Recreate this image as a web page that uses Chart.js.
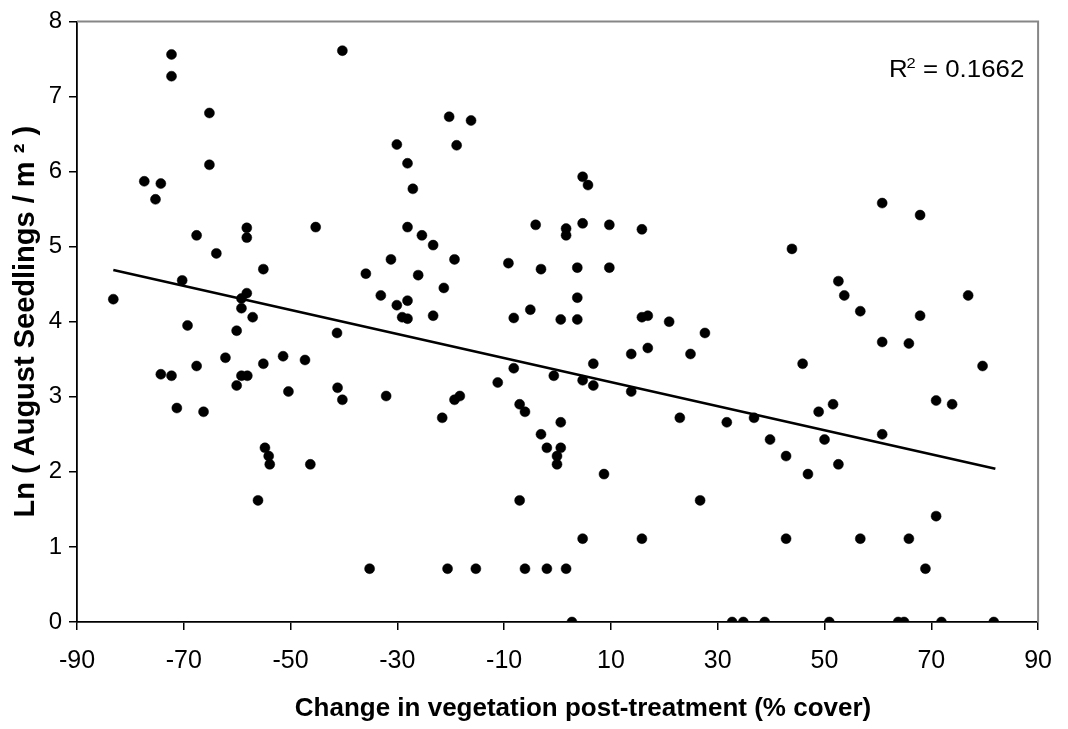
<!DOCTYPE html>
<html>
<head>
<meta charset="utf-8">
<title>August seedlings vs vegetation change</title>
<script src="https://cdn.jsdelivr.net/npm/chart.js@4.4.1/dist/chart.umd.min.js"></script>
<style>
  html, body { margin: 0; padding: 0; background: #fff; }
  #wrap { width: 1068px; height: 729px; }
</style>
</head>
<body>
<div id="wrap"><canvas id="chart" width="1068" height="729"></canvas></div>
<script>
// change in vegetation cover (%)
const changeX = [
  -72.3, -72.3, -40.3, -65.2, -65.2, -77.4, -74.3, -75.3, -30.1, -28.1,
  -27.1, -67.6, -58.2, -58.2, -45.3, -28.1, -63.9, -31.2, -55.1, -35.9,
  -26.1, -70.3, -83.2, -58.2, -59.2, -59.2, -57.1, -69.3, -33.1, -30.1,
  -28.1, -29.1, -28.1, -60.1, -41.3, -62.2, -67.6, -74.3, -72.3, -55.1,
  -51.4, -47.3, -59.2, -58.1, -60.1, -50.4, -41.2, -40.3, -32.1, -71.3,
  -66.3, -54.8, -54.1, -53.9, -46.3, -56.1, -35.2,
  -20.3, -16.2, -18.9, -25.4, -23.3, -19.3, -21.3, -23.3, -9.2, -4.1,
  1.6, 1.6, 4.7, 9.7, 15.8, 4.7, 5.7, -3.1, 3.7, 9.7,
  -8.2, -5.1, 0.6, 3.7, 3.7, 15.8, 16.9, 20.9, 27.6, 13.8,
  16.9, 24.9, 6.7, -8.2, -0.7, 4.7, 6.7, 13.8, -11.2, -19.3,
  -18.3, -21.6, -7.1, -6.1, 0.6, -3.1, -2.0, 0.6, -0.1, -0.1,
  8.7, 22.9, -7.1, 26.7, 4.7, 15.8, -20.6, -15.3, -6.1, -2.0,
  1.6, 2.7,
  60.8, 67.9, 43.9, 52.6, 53.7, 76.9, 56.7, 67.9, 60.8, 65.8,
  45.9, 79.6, 70.9, 73.9, 51.6, 48.9, 36.8, 31.7, 39.8, 50.0,
  60.8, 42.8, 52.6, 46.9, 70.9, 42.8, 56.7, 65.8, 68.9,
  32.7, 34.8, 38.8, 50.9, 63.8, 64.9, 71.9, 81.7
];
// ln(August seedlings / m2)
const lnSeedlings = [
  7.56, 7.27, 7.61, 6.78, 6.09, 5.87, 5.84, 5.63, 6.36, 6.11,
  5.77, 5.15, 5.25, 5.12, 5.26, 5.26, 4.91, 4.83, 4.70, 4.64,
  4.62, 4.55, 4.30, 4.38, 4.31, 4.18, 4.06, 3.95, 4.35, 4.22,
  4.28, 4.06, 4.04, 3.88, 3.85, 3.52, 3.41, 3.30, 3.28, 3.44,
  3.54, 3.49, 3.28, 3.28, 3.15, 3.07, 3.12, 2.96, 3.01, 2.85,
  2.80, 2.32, 2.21, 2.10, 2.10, 1.62, 0.71,
  6.73, 6.68, 6.35, 5.15, 5.02, 4.83, 4.45, 4.08, 4.78, 5.29,
  5.24, 5.15, 5.31, 5.29, 5.23, 5.93, 5.82, 4.70, 4.72, 4.72,
  4.05, 4.16, 4.03, 4.03, 4.32, 4.06, 4.08, 4.00, 3.85, 3.57,
  3.65, 3.57, 3.44, 3.38, 3.28, 3.22, 3.15, 3.07, 3.19, 2.96,
  3.01, 2.72, 2.90, 2.80, 2.66, 2.50, 2.32, 2.32, 2.21, 2.10,
  1.97, 2.72, 1.62, 1.62, 1.11, 1.11, 0.71, 0.71, 0.71, 0.71,
  0.71, 0,
  5.58, 5.42, 4.97, 4.54, 4.35, 4.35, 4.14, 4.08, 3.73, 3.71,
  3.44, 3.41, 2.95, 2.90, 2.90, 2.80, 2.72, 2.66, 2.43, 2.43,
  2.50, 2.21, 2.10, 1.97, 1.41, 1.11, 1.11, 1.11, 0.71,
  0, 0, 0, 0, 0, 0, 0, 0
];
// linear trend line end points
const trendX = [-83.2, 82.0];
const trendY = [4.69, 2.04];
const rSquared = '0.1662';

const xTicks = [-90, -70, -50, -30, -10, 10, 30, 50, 70, 90];
const yTicks = [0, 1, 2, 3, 4, 5, 6, 7, 8];
const xTitle = 'Change in vegetation post-treatment (% cover)';
const yTitle = 'Ln ( August Seedlings / m ² )';

const FONT = '"Liberation Sans", Arial, Helvetica, sans-serif';

const points = changeX.map((x, i) => ({ x: x, y: lnSeedlings[i] }));
const trend = trendX.map((x, i) => ({ x: x, y: trendY[i] }));

// gray frame on top/right, x title (sits a bit right of centre) and R^2 label
const framePlugin = {
  id: 'frame',
  beforeDatasetsDraw(chart) {
    const { ctx, chartArea: a } = chart;
    ctx.save();
    ctx.strokeStyle = '#868686';
    ctx.lineWidth = 2;
    ctx.beginPath();
    ctx.moveTo(a.left, a.top);
    ctx.lineTo(a.right, a.top);
    ctx.lineTo(a.right, a.bottom);
    ctx.stroke();
    ctx.restore();
  },
  afterDraw(chart) {
    const { ctx } = chart;
    ctx.save();
    ctx.fillStyle = '#000';
    ctx.textBaseline = 'alphabetic';

    ctx.textAlign = 'center';
    ctx.font = 'bold 26px ' + FONT;
    ctx.fillText(xTitle, 583, 716);

    ctx.save();
    ctx.translate(889, 77);
    ctx.scale(1.1, 1);
    ctx.textAlign = 'left';
    let x = 0;
    ctx.font = '23.5px ' + FONT;
    ctx.fillText('R', x, 0);
    x += ctx.measureText('R').width - 1;
    ctx.font = '15px ' + FONT;
    ctx.fillText('2', x, -9);
    x += ctx.measureText('2').width;
    ctx.font = '23.5px ' + FONT;
    ctx.fillText(' = ' + rSquared, x, 0);
    ctx.restore();

    ctx.restore();
  }
};

new Chart(document.getElementById('chart'), {
  type: 'scatter',
  data: {
    datasets: [
      {
        label: 'Seedlings',
        data: points,
        backgroundColor: '#000',
        borderColor: '#000',
        borderWidth: 0.5,
        pointRadius: 5,
        pointHoverRadius: 5,
        order: 2
      },
      {
        label: 'Linear trend',
        type: 'line',
        data: trend,
        borderColor: '#000',
        borderWidth: 2.6,
        pointRadius: 0,
        fill: false,
        order: 1
      }
    ]
  },
  options: {
    responsive: false,
    animation: false,
    layout: { padding: { left: 0, top: 16, right: 22, bottom: 0 } },
    plugins: {
      legend: { display: false },
      tooltip: { enabled: false }
    },
    scales: {
      x: {
        type: 'linear',
        min: -90,
        max: 90,
        afterFit: s => { s.height = 107; },
        afterBuildTicks: s => { s.ticks = xTicks.map(v => ({ value: v })); },
        grid: { drawOnChartArea: false, drawTicks: true, tickLength: 8, color: '#000', lineWidth: 1.5 },
        border: { display: true, color: '#000', width: 1.8 },
        ticks: {
          color: '#000',
          font: { family: FONT, size: 25 },
          padding: 16,
          maxRotation: 0,
          autoSkip: false
        },
        title: { display: false }
      },
      y: {
        type: 'linear',
        min: 0,
        max: 8,
        afterFit: s => { s.width = 77; },
        afterBuildTicks: s => { s.ticks = yTicks.map(v => ({ value: v })); },
        grid: { drawOnChartArea: false, drawTicks: true, tickLength: 8, color: '#000', lineWidth: 1.5 },
        border: { display: true, color: '#000', width: 1.8 },
        ticks: {
          color: '#000',
          font: { family: FONT, size: 24 },
          padding: 7
        },
        title: {
          display: true,
          text: yTitle,
          color: '#000',
          font: { family: FONT, size: 29, weight: 'bold' },
          padding: { top: 9, bottom: 0 }
        }
      }
    }
  },
  plugins: [framePlugin]
});
</script>
</body>
</html>
